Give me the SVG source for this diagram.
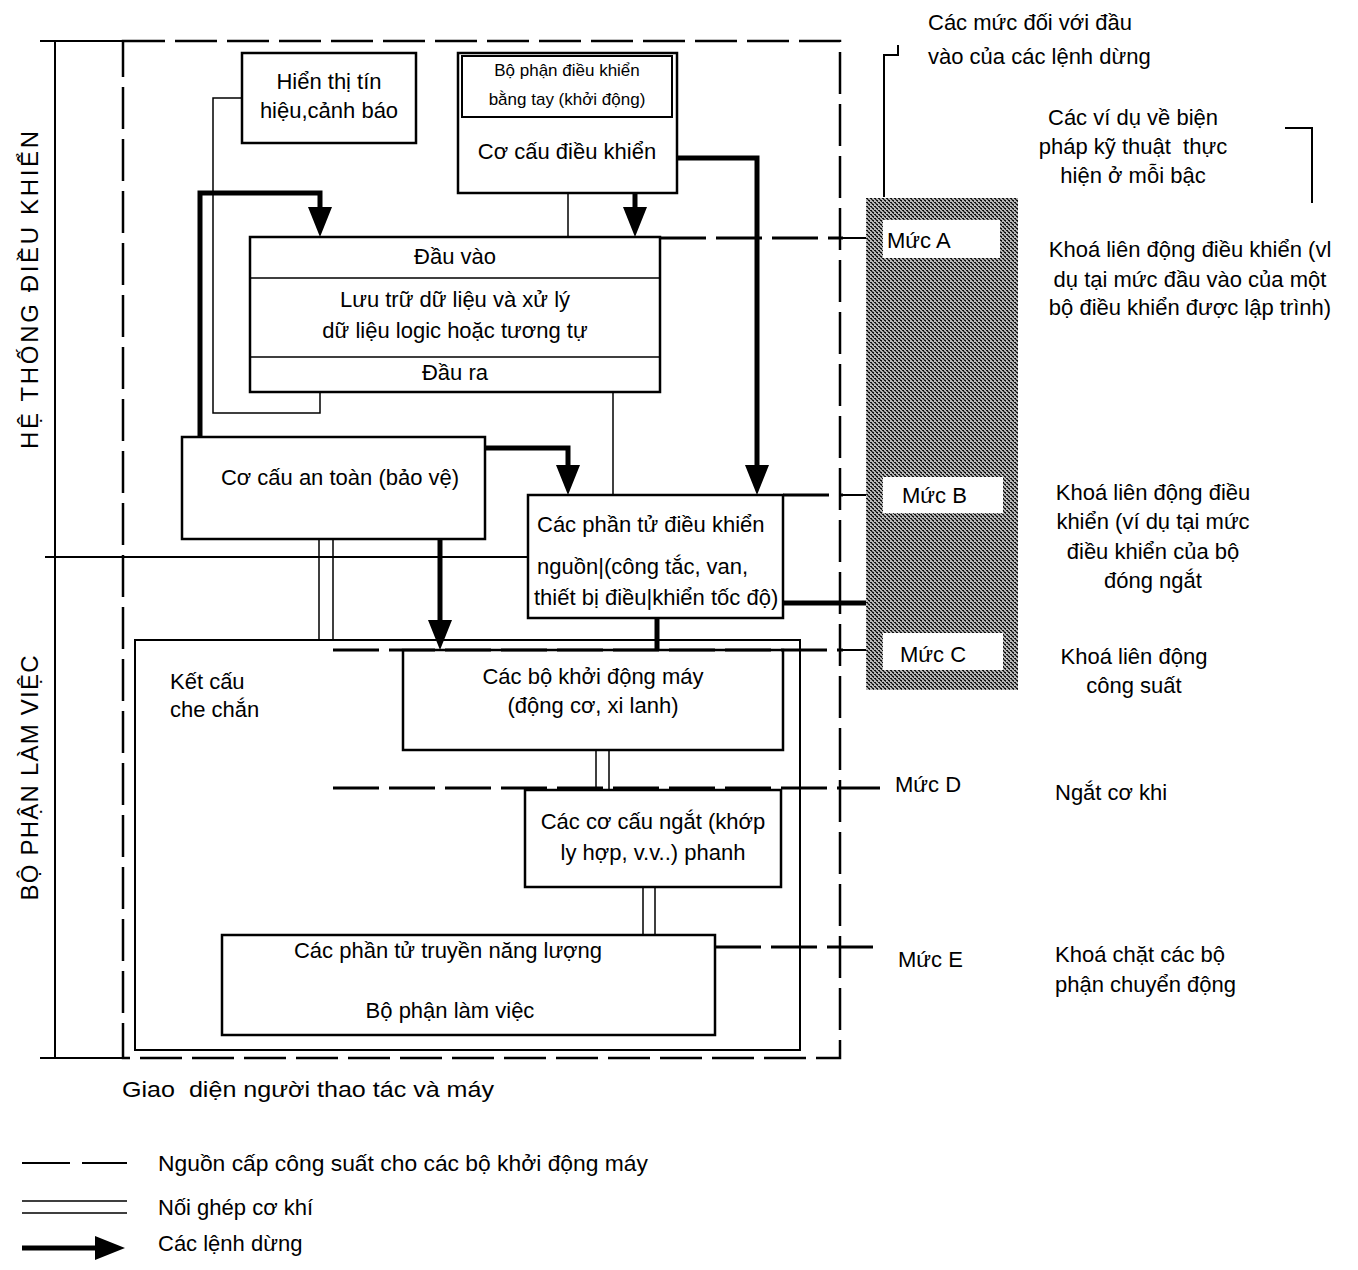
<svg xmlns="http://www.w3.org/2000/svg" width="1358" height="1270" viewBox="0 0 1358 1270">
<defs>
<style>
text{font-family:"Liberation Sans",Arial,sans-serif;font-size:22px;fill:#000}
.c{text-anchor:middle}
.sm{font-size:17px}
.vert{font-size:24px}
.box{fill:#fff;stroke:#000;stroke-width:2.5}
.thin{fill:none;stroke:#000;stroke-width:1.5}
.solid{fill:none;stroke:#000;stroke-width:2}
.stop{fill:none;stroke:#000;stroke-width:5}
.pw{fill:none;stroke:#000;stroke-width:3;stroke-dasharray:46 10}
.frame{fill:none;stroke:#000;stroke-width:2.5;stroke-dasharray:42 10}
</style>
<marker id="arr" viewBox="0 0 30 24" refX="20" refY="12" markerWidth="30" markerHeight="24" markerUnits="userSpaceOnUse" orient="auto">
<path d="M0,0 L30,12 L0,24 z" fill="#000"/>
</marker>
<pattern id="stipple" width="4" height="4" patternUnits="userSpaceOnUse">
<rect width="4" height="4" fill="#b8b8b8"/>
<rect x="0" y="0" width="2" height="1" fill="#111"/>
<rect x="2" y="2" width="2" height="1" fill="#111"/>
<rect x="1" y="1" width="1" height="1" fill="#333"/>
<rect x="3" y="3" width="1" height="1" fill="#333"/>
<rect x="0" y="3" width="1" height="1" fill="#555"/>
</pattern>
</defs>
<rect width="1358" height="1270" fill="#fff"/>

<g id="frame">
<rect class="frame" x="123" y="41" width="717" height="1017"/>
<path class="solid" d="M40,41 H147 M55,41 V1058 M40,1058 H123 M45,557 H529"/>
<text class="vert" transform="translate(38,290) rotate(-90)" text-anchor="middle" textLength="318" lengthAdjust="spacing">HỆ THỐNG ĐIỀU KHIỂN</text>
<text class="vert" transform="translate(38,778) rotate(-90)" text-anchor="middle" textLength="245" lengthAdjust="spacing">BỘ PHẬN LÀM VIỆC</text>
</g>

<g id="n-shield">
<rect class="solid" x="135" y="640" width="665" height="410"/>
<text x="170" y="689">Kết cấu</text>
<text x="170" y="717">che chắn</text>
</g>

<g id="n-warning">
<rect class="box" x="242" y="53" width="174" height="90"/>
<text class="c" x="329" y="89">Hiển thị tín</text>
<text class="c" x="329" y="118">hiệu,cảnh báo</text>
</g>

<g id="n-control">
<rect class="box" x="458" y="53" width="219" height="140"/>
<rect class="solid" x="462" y="56" width="210" height="61"/>
<text class="c sm" x="567" y="76">Bộ phận điều khiển</text>
<text class="c sm" x="567" y="105">bằng tay (khởi động)</text>
<text class="c" x="567" y="159">Cơ cấu điều khiển</text>
</g>

<g id="n-logic">
<rect class="box" x="250" y="237" width="410" height="155"/>
<path class="thin" d="M250,278 H660 M250,357 H660"/>
<text class="c" x="455" y="264">Đầu vào</text>
<text class="c" x="455" y="307">Lưu trữ dữ liệu và xử lý</text>
<text class="c" x="455" y="338">dữ liệu logic hoặc tương tự</text>
<text class="c" x="455" y="380">Đầu ra</text>
</g>

<g id="n-safety">
<rect class="box" x="182" y="437" width="303" height="102"/>
<text class="c" x="340" y="485">Cơ cấu an toàn (bảo vệ)</text>
</g>

<g id="n-power-control">
<rect class="box" x="528" y="495" width="255" height="123"/>
<text x="537" y="532">Các phần tử điều khiển</text>
<text x="537" y="574">nguồn|(công tắc, van,</text>
<text x="534" y="605">thiết bị điều|khiển tốc độ)</text>
</g>

<g id="n-starter">
<rect class="box" x="403" y="650" width="380" height="100"/>
<text class="c" x="593" y="684">Các bộ khởi động máy</text>
<text class="c" x="593" y="713">(động cơ, xi lanh)</text>
</g>

<g id="n-breaker">
<rect class="box" x="525" y="790" width="256" height="97"/>
<text class="c" x="653" y="829">Các cơ cấu ngắt (khớp</text>
<text class="c" x="653" y="860">ly hợp, v.v..) phanh</text>
</g>

<g id="n-energy">
<rect class="box" x="222" y="935" width="493" height="100"/>
<text class="c" x="448" y="958">Các phần tử truyền năng lượng</text>
<text class="c" x="450" y="1018">Bộ phận làm việc</text>
</g>

<g id="connectors">
<path class="thin" d="M568,193 V237"/>
<path class="thin" d="M613,392 V495"/>
<path class="thin" d="M320,392 V413 H213 V98 H242"/>
<path class="thin" d="M319,539 V640 M333,539 V640"/>
<path class="thin" d="M596,750 V790 M609,750 V790"/>
<path class="thin" d="M643,887 V935 M655,887 V935"/>
<path class="stop" d="M200,437 V193 H320 V227" marker-end="url(#arr)"/>
<path class="stop" d="M635,193 V227" marker-end="url(#arr)"/>
<path class="stop" d="M677,158 H757 V485" marker-end="url(#arr)"/>
<path class="stop" d="M485,448 H568 V485" marker-end="url(#arr)"/>
<path class="stop" d="M440,539 V640" marker-end="url(#arr)"/>
<path class="stop" d="M657,618 V650"/>
<path class="stop" d="M783,603 H870"/>
<path class="pw" d="M660,238 H843"/>
<path class="pw" d="M783,495 H843"/>
<path class="pw" d="M333,650 H843"/>
<path class="pw" d="M333,788 H880"/>
<path class="pw" d="M715,947 H880"/>
<path class="solid" d="M843,238 H870 M843,495 H870 M843,650 H870"/>
<path class="solid" d="M898,45 V55 H884 V197"/>
<path class="solid" d="M1285,128 H1312 V203"/>
</g>

<g id="n-levels">
<rect x="866" y="198" width="152" height="492" fill="url(#stipple)"/>
<rect x="883" y="220" width="117" height="38" fill="#fff"/>
<rect x="883" y="477" width="120" height="36" fill="#fff"/>
<rect x="883" y="633" width="120" height="37" fill="#fff"/>
<text x="887" y="248">Mức A</text>
<text x="902" y="503">Mức B</text>
<text x="900" y="662">Mức C</text>
</g>
<g id="n-levelD"><text x="895" y="792">Mức D</text></g>
<g id="n-levelE"><text x="898" y="967">Mức E</text></g>

<g id="annotations">
<text x="928" y="30">Các mức đối với đầu</text>
<text x="928" y="64">vào của các lệnh dừng</text>
<text class="c" x="1133" y="125">Các ví dụ về biện</text>
<text class="c" x="1133" y="154" xml:space="preserve">pháp kỹ thuật  thực</text>
<text class="c" x="1133" y="183">hiện ở mỗi bậc</text>
<text class="c" x="1190" y="257">Khoá liên động điều khiển (vl</text>
<text class="c" x="1190" y="287">dụ tại mức đầu vào của một</text>
<text class="c" x="1190" y="315">bộ điều khiển được lập trình)</text>
<text class="c" x="1153" y="500">Khoá liên động điều</text>
<text class="c" x="1153" y="529">khiển (ví dụ tại mức</text>
<text class="c" x="1153" y="559">điều khiển của bộ</text>
<text class="c" x="1153" y="588">đóng ngắt</text>
<text class="c" x="1134" y="664">Khoá liên động</text>
<text class="c" x="1134" y="693">công suất</text>
<text x="1055" y="800">Ngắt cơ khi</text>
<text x="1055" y="962">Khoá chặt các bộ</text>
<text x="1055" y="992">phận chuyển động</text>
<text x="122" y="1097" xml:space="preserve" textLength="372" lengthAdjust="spacingAndGlyphs">Giao  diện người thao tác và máy</text>
</g>

<g id="legend">
<path class="solid" d="M22,1163 H70 M82,1163 H127" stroke-width="3"/>
<path class="thin" d="M22,1201 H127 M22,1213 H127"/>
<path class="stop" d="M22,1248 H115" marker-end="url(#arr)"/>
<text x="158" y="1171" textLength="490" lengthAdjust="spacingAndGlyphs">Nguồn cấp công suất cho các bộ khởi động máy</text>
<text x="158" y="1215">Nối ghép cơ khí</text>
<text x="158" y="1251">Các lệnh dừng</text>
</g>
</svg>
